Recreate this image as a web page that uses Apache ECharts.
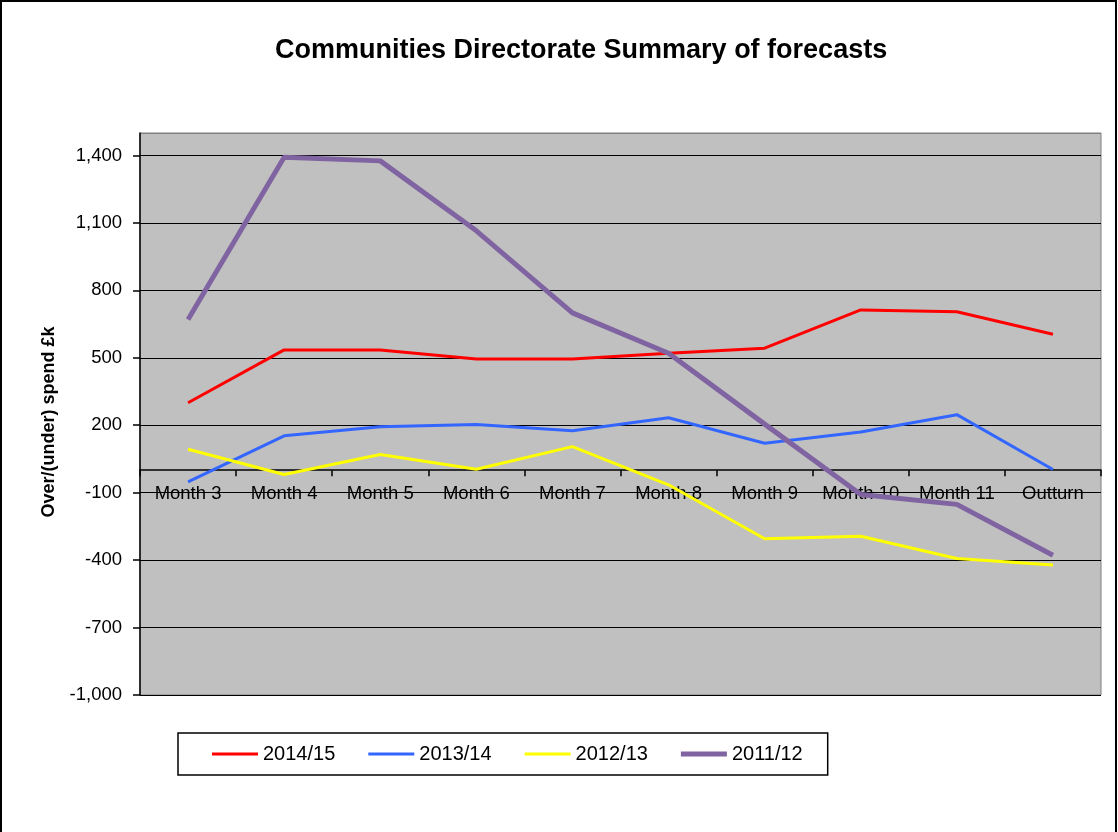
<!DOCTYPE html>
<html>
<head>
<meta charset="utf-8">
<script src="https://cdn.jsdelivr.net/npm/echarts@6/dist/echarts.min.js"></script>
<style>
html,body{margin:0;padding:0;background:#fff;}
#chart{width:1118px;height:832px;}
</style>
</head>
<body>
<div id="chart"></div>
<script>
const categories = ['Month 3','Month 4','Month 5','Month 6','Month 7','Month 8','Month 9','Month 10','Month 11','Outturn'];
const s2014_15 = [300, 535, 535, 495, 495, 520, 543, 713, 705, 605];
const s2013_14 = [-52, 153, 193, 203, 175, 233, 120, 170, 247, 3];
const s2012_13 = [93, -19, 70, 4, 105, -65, -305, -294, -393, -422];
const s2011_12 = [670, 1392, 1376, 1065, 700, 520, 205, -108, -152, -378];
const seriesNames = ['2014/15', '2013/14', '2012/13', '2011/12'];
const yMin = -1000, yMax = 1500, yStep = 300;

const FONT = 'Liberation Sans, Arial, sans-serif';
const chart = echarts.init(document.getElementById('chart'));
const fmt = v => v.toLocaleString('en-US');

const GRID_TOP = 133, GRID_BOTTOM = 137, H = 832;
const gridH = H - GRID_TOP - GRID_BOTTOM;
// distance of the zero line above the grid bottom, from the axis scale
const zeroOffset = (0 - yMin) / (yMax - yMin) * gridH;

function mk(name, data, color, width) {
  return {
    name: name, type: 'line', data: data, symbol: 'none', showSymbol: false,
    symbolKeepAspect: true, z: 10,
    lineStyle: { color: color, width: width }, itemStyle: { color: color },
    emphasis: { disabled: true }, animation: false
  };
}
const thin = 'path://M0,0L46,0L46,3L0,3Z';
const thick = 'path://M0,0L46,0L46,5L0,5Z';

chart.setOption({
  backgroundColor: '#ffffff',
  animation: false,
  textStyle: { fontFamily: FONT },
  graphic: [{
    type: 'rect', silent: true, z: -10,
    shape: { x: 1, y: 1, width: 1115, height: 860 },
    style: { fill: 'none', stroke: '#000', lineWidth: 2 }
  }],
  title: {
    text: 'Communities Directorate Summary of forecasts',
    left: 270, top: 32,
    textStyle: { fontFamily: FONT, fontSize: 27, fontWeight: 'bold', color: '#000' }
  },
  legend: {
    data: [
      { name: seriesNames[0], icon: thin },
      { name: seriesNames[1], icon: thin },
      { name: seriesNames[2], icon: thin },
      { name: seriesNames[3], icon: thick }
    ],
    left: 178, top: 733,
    orient: 'horizontal',
    itemWidth: 46, itemHeight: 14, itemGap: 33,
    padding: [11, 25, 11, 34],
    borderColor: '#000', borderWidth: 1.5,
    textStyle: { fontFamily: FONT, fontSize: 20, color: '#000' }
  },
  grid: {
    left: 140, right: 17, top: GRID_TOP, bottom: GRID_BOTTOM,
    show: true, backgroundColor: '#C0C0C0', borderColor: '#808080', borderWidth: 1
  },
  xAxis: {
    type: 'category', data: categories, boundaryGap: true, z: 1,
    offset: -zeroOffset,
    axisLine: { onZero: false, lineStyle: { color: '#000', width: 1.5 } },
    axisTick: { show: true, length: 6, lineStyle: { color: '#000', width: 1.5 } },
    axisLabel: { margin: 14, fontFamily: FONT, fontSize: 18.5, color: '#000', interval: 0 },
    splitLine: { show: false }
  },
  yAxis: {
    type: 'value', min: yMin, max: yMax, interval: yStep, z: 1,
    name: 'Over/(under) spend £k', nameLocation: 'middle', nameGap: 82, nameRotate: 90,
    nameTextStyle: { fontFamily: FONT, fontSize: 18, fontWeight: 'bold', color: '#000', padding: [0, 16, 0, 0] },
    axisLine: { show: true, lineStyle: { color: '#000', width: 1.5 } },
    axisTick: { show: true, length: 7, lineStyle: { color: '#000', width: 1.5 } },
    axisLabel: { margin: 18, fontFamily: FONT, fontSize: 18.5, color: '#000', formatter: fmt, showMaxLabel: false },
    splitLine: { show: true, lineStyle: { color: ['#000','#000','#000','#000','#000','#000','#000','#000','#000','#808080'], width: 1.2 } }
  },
  series: [
    mk(seriesNames[0], s2014_15, '#FF0000', 3),
    mk(seriesNames[1], s2013_14, '#3366FF', 3),
    mk(seriesNames[2], s2012_13, '#FFFF00', 3),
    mk(seriesNames[3], s2011_12, '#8064A2', 5)
  ]
});
</script>
</body>
</html>
